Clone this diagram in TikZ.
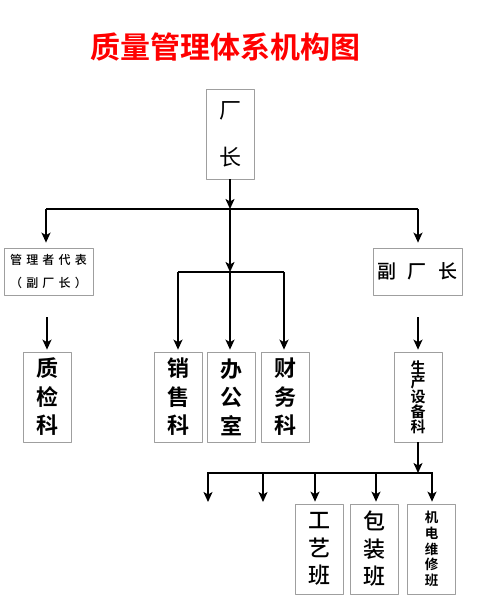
\documentclass[tikz,border=0pt]{standalone}
\usepackage{fontspec}
\setmainfont{Noto Sans CJK SC}[BoldFont={Noto Sans CJK SC Bold}]
\newfontfamily\midfont{Noto Sans CJK SC Medium}
\usetikzlibrary{arrows.meta}
\tikzset{
	box/.style={draw=gray!75,line width=0.7pt,minimum width=48pt,minimum height=90pt,inner sep=0pt,align=center},
	arr/.style={-{Stealth[length=10pt,width=9pt,inset=2.5pt]},line width=1.6pt},
	bus/.style={line width=1.6pt},
}
\begin{document}
\begin{tikzpicture}[x=1pt,y=-1pt,line join=round]
	\useasboundingbox (0,0) rectangle (480,599);
	\node[text=red,font=\bfseries\fontsize{30}{30}\selectfont] (title) at (225.5,47.5) {质量管理体系机构图};
	% top
	\node[box,font=\fontsize{22}{47}\selectfont] (cz) at (230,134) {厂\\长};
	\node[box,minimum width=89pt,minimum height=47pt,font=\midfont\fontsize{12}{23}\selectfont\addfontfeature{LetterSpace=35}] (gdb) at (48.5,271.5) {管理者代表\\（副厂长）};
	\node[box,minimum width=89pt,minimum height=47pt,font=\midfont\fontsize{19}{19}\selectfont\addfontfeature{LetterSpace=60}] (fcz) at (417.5,271.5) {副厂长};
	% middle row
	\node[box,font=\bfseries\fontsize{22}{28.5}\selectfont] (zjk) at (47,397) {质\\检\\科};
	\node[box,font=\bfseries\fontsize{22}{28.5}\selectfont] (xsk) at (178,397) {销\\售\\科};
	\node[box,font=\bfseries\fontsize{22}{28.5}\selectfont] (bgs) at (231.5,397) {办\\公\\室};
	\node[box,font=\bfseries\fontsize{22}{28.5}\selectfont] (cwk) at (285,397) {财\\务\\科};
	\node[box,font=\bfseries\fontsize{15}{14.8}\selectfont] (scsbk) at (418,397) {生\\产\\设\\备\\科};
	% bottom row
	\node[box,font=\midfont\fontsize{22}{27.5}\selectfont] (gyb) at (319.5,549) {工\\艺\\班};
	\node[box,font=\midfont\fontsize{22}{27.5}\selectfont] (bzb) at (374,549) {包\\装\\班};
	\node[box,font=\bfseries\fontsize{13.5}{15.7}\selectfont] (jdwxb) at (431.5,549) {机\\电\\维\\修\\班};
	% connectors
	\coordinate (b1) at (230,209);
	\coordinate (b1l) at (46,209);
	\coordinate (b1r) at (418,209);
	\coordinate (b2) at (230,272);
	\coordinate (b2l) at (178,272);
	\coordinate (b2r) at (284,272);
	\draw[arr] (cz.south -| b1) -- (b1);
	\draw[bus] (b1l) -- (b1r);
	\draw[arr,shorten >=5pt] (b1l) -- (b1l |- gdb.north);
	\draw[arr,shorten >=5pt] (b1r) -- (b1r |- gdb.north);
	\draw[arr] (b1) -- (b2);
	\draw[bus] (b2l) -- (b2r);
	\draw[arr,shorten >=2pt] (b2l) -- (xsk.north);
	\draw[arr,shorten >=2pt] (b2) -- (b2 |- bgs.north);
	\draw[arr,shorten >=2pt] (b2r) -- (b2r |- cwk.north);
	\draw[arr,shorten <=22pt,shorten >=2pt] (gdb.south -| zjk.north) -- (zjk.north);
	\draw[arr,shorten <=22pt,shorten >=2pt] (fcz.south -| scsbk.north) -- (scsbk.north);
	\coordinate (b3) at (418,473);
	\coordinate (b3l) at (207,473);
	\coordinate (b3r) at (433,473);
	\coordinate (e1) at (208,502);
	\coordinate (e2) at (263,502);
	\draw[arr] (scsbk) -- (b3);
	\draw[bus] (b3l) -- (b3r);
	\draw[arr] (e1 |- b3) -- (e1);
	\draw[arr] (e2 |- b3) -- (e2);
	\draw[arr,shorten >=2pt] (315,473) -- (315,473 |- gyb.north);
	\draw[arr,shorten >=2pt] (376,473) -- (376,473 |- bzb.north);
	\draw[arr,shorten >=2pt] (432,473) -- (432,473 |- jdwxb.north);
\end{tikzpicture}
\end{document}
